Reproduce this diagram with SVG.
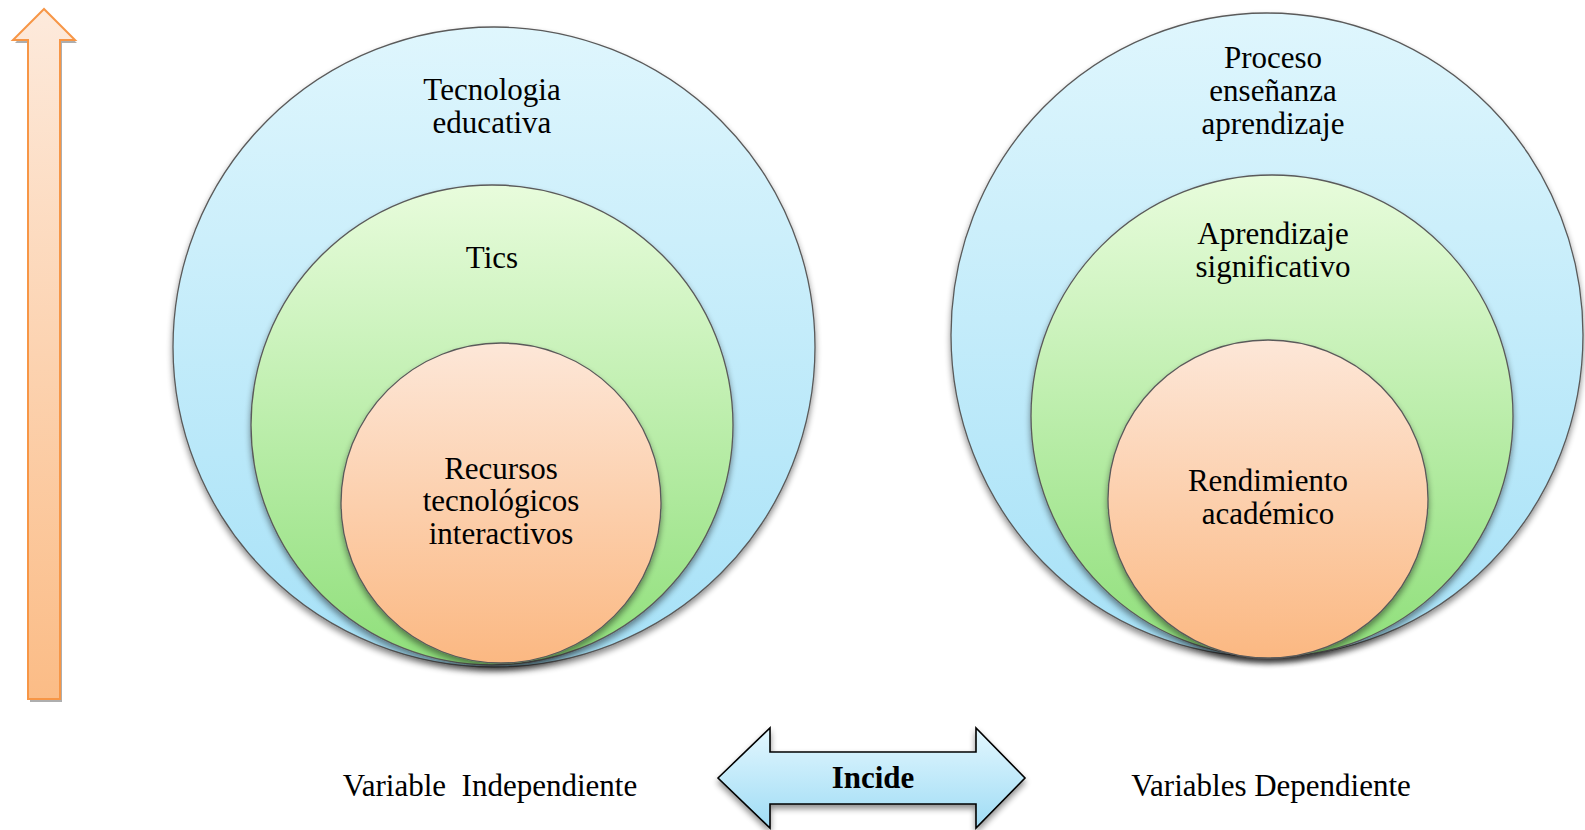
<svg xmlns="http://www.w3.org/2000/svg" width="1585" height="830" viewBox="0 0 1585 830">
  <defs>
    <linearGradient id="gBlue" x1="0" y1="0" x2="0" y2="1">
      <stop offset="0" stop-color="#dff6fd"/>
      <stop offset="1" stop-color="#a6e1f7"/>
    </linearGradient>
    <linearGradient id="gGreen" x1="0" y1="0" x2="0" y2="1">
      <stop offset="0" stop-color="#e8fcdc"/>
      <stop offset="1" stop-color="#8fdf7a"/>
    </linearGradient>
    <linearGradient id="gOrange" x1="0" y1="0" x2="0" y2="1">
      <stop offset="0" stop-color="#fde7d8"/>
      <stop offset="1" stop-color="#fbb882"/>
    </linearGradient>
    <linearGradient id="gArrowUp" x1="0" y1="0" x2="0" y2="1">
      <stop offset="0" stop-color="#fdeadc"/>
      <stop offset="1" stop-color="#fbbc86"/>
    </linearGradient>
    <linearGradient id="gArrowBoth" x1="0" y1="0" x2="0" y2="1">
      <stop offset="0" stop-color="#e3f7fe"/>
      <stop offset="1" stop-color="#9fdcf5"/>
    </linearGradient>
    <filter id="shadow" x="-10%" y="-10%" width="120%" height="125%">
      <feGaussianBlur in="SourceAlpha" stdDeviation="3"/>
      <feOffset dx="0" dy="4" result="b"/>
      <feComponentTransfer><feFuncA type="linear" slope="0.45"/></feComponentTransfer>
      <feMerge><feMergeNode/><feMergeNode in="SourceGraphic"/></feMerge>
    </filter>
  </defs>
  <style>
    .ring { stroke: #5a5a5a; stroke-width: 1.3; filter: url(#shadow); }
    .blue { fill: url(#gBlue); }
    .green { fill: url(#gGreen); }
    .orange { fill: url(#gOrange); }
    .lbl { font-family: "Liberation Serif", "Times New Roman", serif; font-size: 31px; fill: #000; text-anchor: middle; white-space: pre; }
    .bold { font-weight: bold; }
  </style>
  <rect width="1585" height="830" fill="#ffffff"/>

  <!-- vertical scale arrow -->
  <g id="arrow-up">
    <polygon points="44,12 15,43 30,43 30,702 62,702 62,43 77,43" fill="#9a9a9a" opacity="0.8"/>
    <polygon points="44,9 13,40 28,40 28,699 60,699 60,40 75,40" fill="url(#gArrowUp)" stroke="#f79646" stroke-width="2" stroke-linejoin="miter"/>
  </g>

  <!-- independent variable rings -->
  <g id="tecnologia-educativa">
    <ellipse class="ring blue" cx="494" cy="347" rx="321" ry="320"/>
    <text class="lbl" x="492" y="100">Tecnologia</text>
    <text class="lbl" x="492" y="133">educativa</text>
  </g>
  <g id="tics">
    <ellipse class="ring green" cx="492" cy="425" rx="241" ry="240"/>
    <text class="lbl" x="492" y="268">Tics</text>
  </g>
  <g id="recursos">
    <ellipse class="ring orange" cx="501" cy="503" rx="160" ry="160"/>
    <text class="lbl" x="501" y="479">Recursos</text>
    <text class="lbl" x="501" y="511">tecnológicos</text>
    <text class="lbl" x="501" y="544">interactivos</text>
  </g>

  <!-- dependent variable rings -->
  <g id="proceso">
    <ellipse class="ring blue" cx="1267" cy="335" rx="316" ry="322"/>
    <text class="lbl" x="1273" y="68">Proceso</text>
    <text class="lbl" x="1273" y="101">enseñanza</text>
    <text class="lbl" x="1273" y="134">aprendizaje</text>
  </g>
  <g id="aprendizaje">
    <ellipse class="ring green" cx="1272" cy="416" rx="241" ry="241"/>
    <text class="lbl" x="1273" y="244">Aprendizaje</text>
    <text class="lbl" x="1273" y="277">significativo</text>
  </g>
  <g id="rendimiento">
    <ellipse class="ring orange" cx="1268" cy="499" rx="160" ry="159"/>
    <text class="lbl" x="1268" y="491">Rendimiento</text>
    <text class="lbl" x="1268" y="524">académico</text>
  </g>

  <!-- connector between the two sets -->
  <g id="connectors">
    <polygon points="718,778 770,728 770,752 976,752 976,728 1025,778 976,828 976,804 770,804 770,828" fill="url(#gArrowBoth)" stroke="#000" stroke-width="1.6" stroke-linejoin="miter" filter="url(#shadow)"/>
    <text class="lbl bold" x="873" y="788">Incide</text>
  </g>

  <text class="lbl" x="490" y="796" xml:space="preserve">Variable  Independiente</text>
  <text class="lbl" x="1271" y="796">Variables Dependiente</text>
</svg>
